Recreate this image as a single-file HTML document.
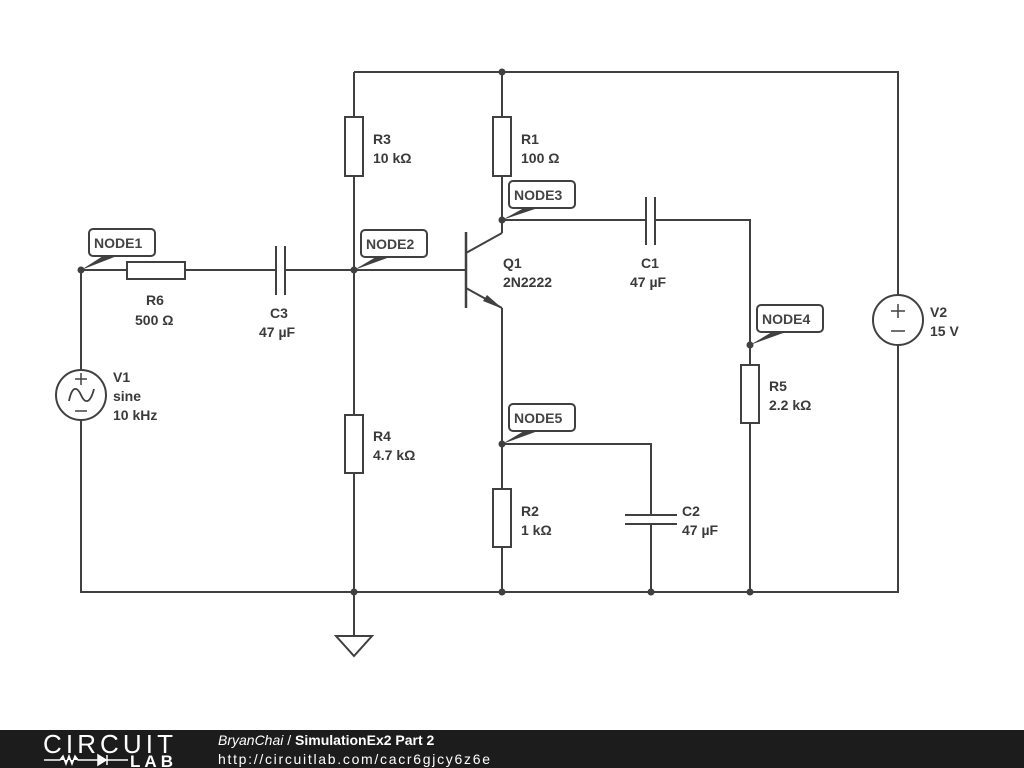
<!DOCTYPE html>
<html><head><meta charset="utf-8"><style>
html,body{margin:0;padding:0;background:#fff;width:1024px;height:768px;overflow:hidden}
svg{display:block}
text{font-family:"Liberation Sans",sans-serif;font-weight:bold;font-size:14px;fill:#3a3a3a}
.nl{font-size:14px;fill:#444}
</style></head><body>
<svg width="1024" height="768" viewBox="0 0 1024 768">
<g stroke="#404040" stroke-width="2" fill="none">
<path d="M354 72H898V592H81V270H127M185 270H276M285 270H466"/>
<path d="M354 72V117M354 176V415M354 473V636"/>
<path d="M502 72V117M502 176V233"/>
<path d="M502 220H646M655 220H750V365M750 423V592"/>
<path d="M502 308V489M502 547V592"/>
<path d="M502 444H651V515M651 524V592"/>
<rect x="127" y="262" width="58" height="17" fill="#fff"/>
<rect x="345" y="117" width="18" height="59" fill="#fff"/>
<rect x="345" y="415" width="18" height="58" fill="#fff"/>
<rect x="493" y="117" width="18" height="59" fill="#fff"/>
<rect x="493" y="489" width="18" height="58" fill="#fff"/>
<rect x="741" y="365" width="18" height="58" fill="#fff"/>
<path d="M276 246V295M285 246V295"/>
<path d="M646 197V245M655 197V245"/>
<path d="M625 515H677M625 524H677"/>
<path d="M336 636H372L354 656Z"/>
<path d="M466 232V308" stroke-width="2.5"/>
<path d="M466 253L502 233M466 288L502 308"/>
<circle cx="81" cy="395" r="25" fill="#fff"/>
<path d="M69 401C72 386 77 386 81 395C85 404 90 404 94 389" stroke-width="1.8"/>
<path d="M81 373V385M75 379H87M75 411H87" stroke-width="1.5"/>
<circle cx="898" cy="320" r="25" fill="#fff"/>
<path d="M898 304V318M891 311H905M891 331H905" stroke-width="1.5"/>
</g>
<path d="M503 309L483 301L487 295Z" fill="#404040"/>
<g fill="#404040">
<circle cx="502" cy="72" r="3.5"/><circle cx="354" cy="270" r="3.5"/><circle cx="81" cy="270" r="3.5"/>
<circle cx="354" cy="592" r="3.5"/><circle cx="502" cy="592" r="3.5"/><circle cx="651" cy="592" r="3.5"/>
<circle cx="750" cy="592" r="3.5"/><circle cx="502" cy="220" r="3.5"/><circle cx="502" cy="444" r="3.5"/>
<circle cx="750" cy="345" r="3.5"/>
<path d="M81 270L103 256H117Z"/><path d="M354 270L376 257H390Z"/>
<path d="M502 220L524 208H538Z"/><path d="M502 444L524 431H538Z"/><path d="M750 345L772 332H786Z"/>
</g>
<g fill="#fff" stroke="#404040" stroke-width="2">
<rect x="89" y="229" width="66" height="27" rx="4"/>
<rect x="361" y="230" width="66" height="27" rx="4"/>
<rect x="509" y="181" width="66" height="27" rx="4"/>
<rect x="757" y="305" width="66" height="27" rx="4"/>
<rect x="509" y="404" width="66" height="27" rx="4"/>
</g>
<text class="nl" x="94" y="248">NODE1</text>
<text class="nl" x="366" y="249">NODE2</text>
<text class="nl" x="514" y="200">NODE3</text>
<text class="nl" x="762" y="324">NODE4</text>
<text class="nl" x="514" y="423">NODE5</text>
<text x="373" y="144">R3</text><text x="373" y="163">10 kΩ</text>
<text x="521" y="144">R1</text><text x="521" y="163">100 Ω</text>
<text x="146" y="305">R6</text><text x="135" y="325">500 Ω</text>
<text x="270" y="318">C3</text><text x="259" y="337">47 µF</text>
<text x="503" y="268">Q1</text><text x="503" y="287">2N2222</text>
<text x="641" y="268">C1</text><text x="630" y="287">47 µF</text>
<text x="113" y="382">V1</text><text x="113" y="401">sine</text><text x="113" y="420">10 kHz</text>
<text x="373" y="441">R4</text><text x="373" y="460">4.7 kΩ</text>
<text x="521" y="516">R2</text><text x="521" y="535">1 kΩ</text>
<text x="682" y="516">C2</text><text x="682" y="535">47 µF</text>
<text x="769" y="391">R5</text><text x="769" y="410">2.2 kΩ</text>
<text x="930" y="317">V2</text><text x="930" y="336">15 V</text>
<rect x="0" y="730" width="1024" height="38" fill="#1c1c1c"/>
<text x="43" y="753" style="font-weight:normal;font-size:26px;fill:#fff;letter-spacing:0px" textLength="130">CIRCUIT</text>
<path d="M44 760H60L63 756L66 764L69 756L72 764L75 756L78 760H98M98 755V765L106 760ZM107 755V765M107 760H128" stroke="#fff" stroke-width="1.5" fill="#fff"/>
<text x="130" y="767" style="font-size:17px;fill:#fff" textLength="43">LAB</text>
<text x="218" y="745" style="font-weight:normal;font-style:italic;fill:#fff;font-size:14px">BryanChai <tspan style="font-style:normal">/ </tspan><tspan style="font-weight:bold;font-style:normal">SimulationEx2 Part 2</tspan></text>
<text x="218" y="764" style="font-weight:normal;fill:#fff;font-size:14px" textLength="272">http://circuitlab.com/cacr6gjcy6z6e</text>
</svg>
</body></html>
